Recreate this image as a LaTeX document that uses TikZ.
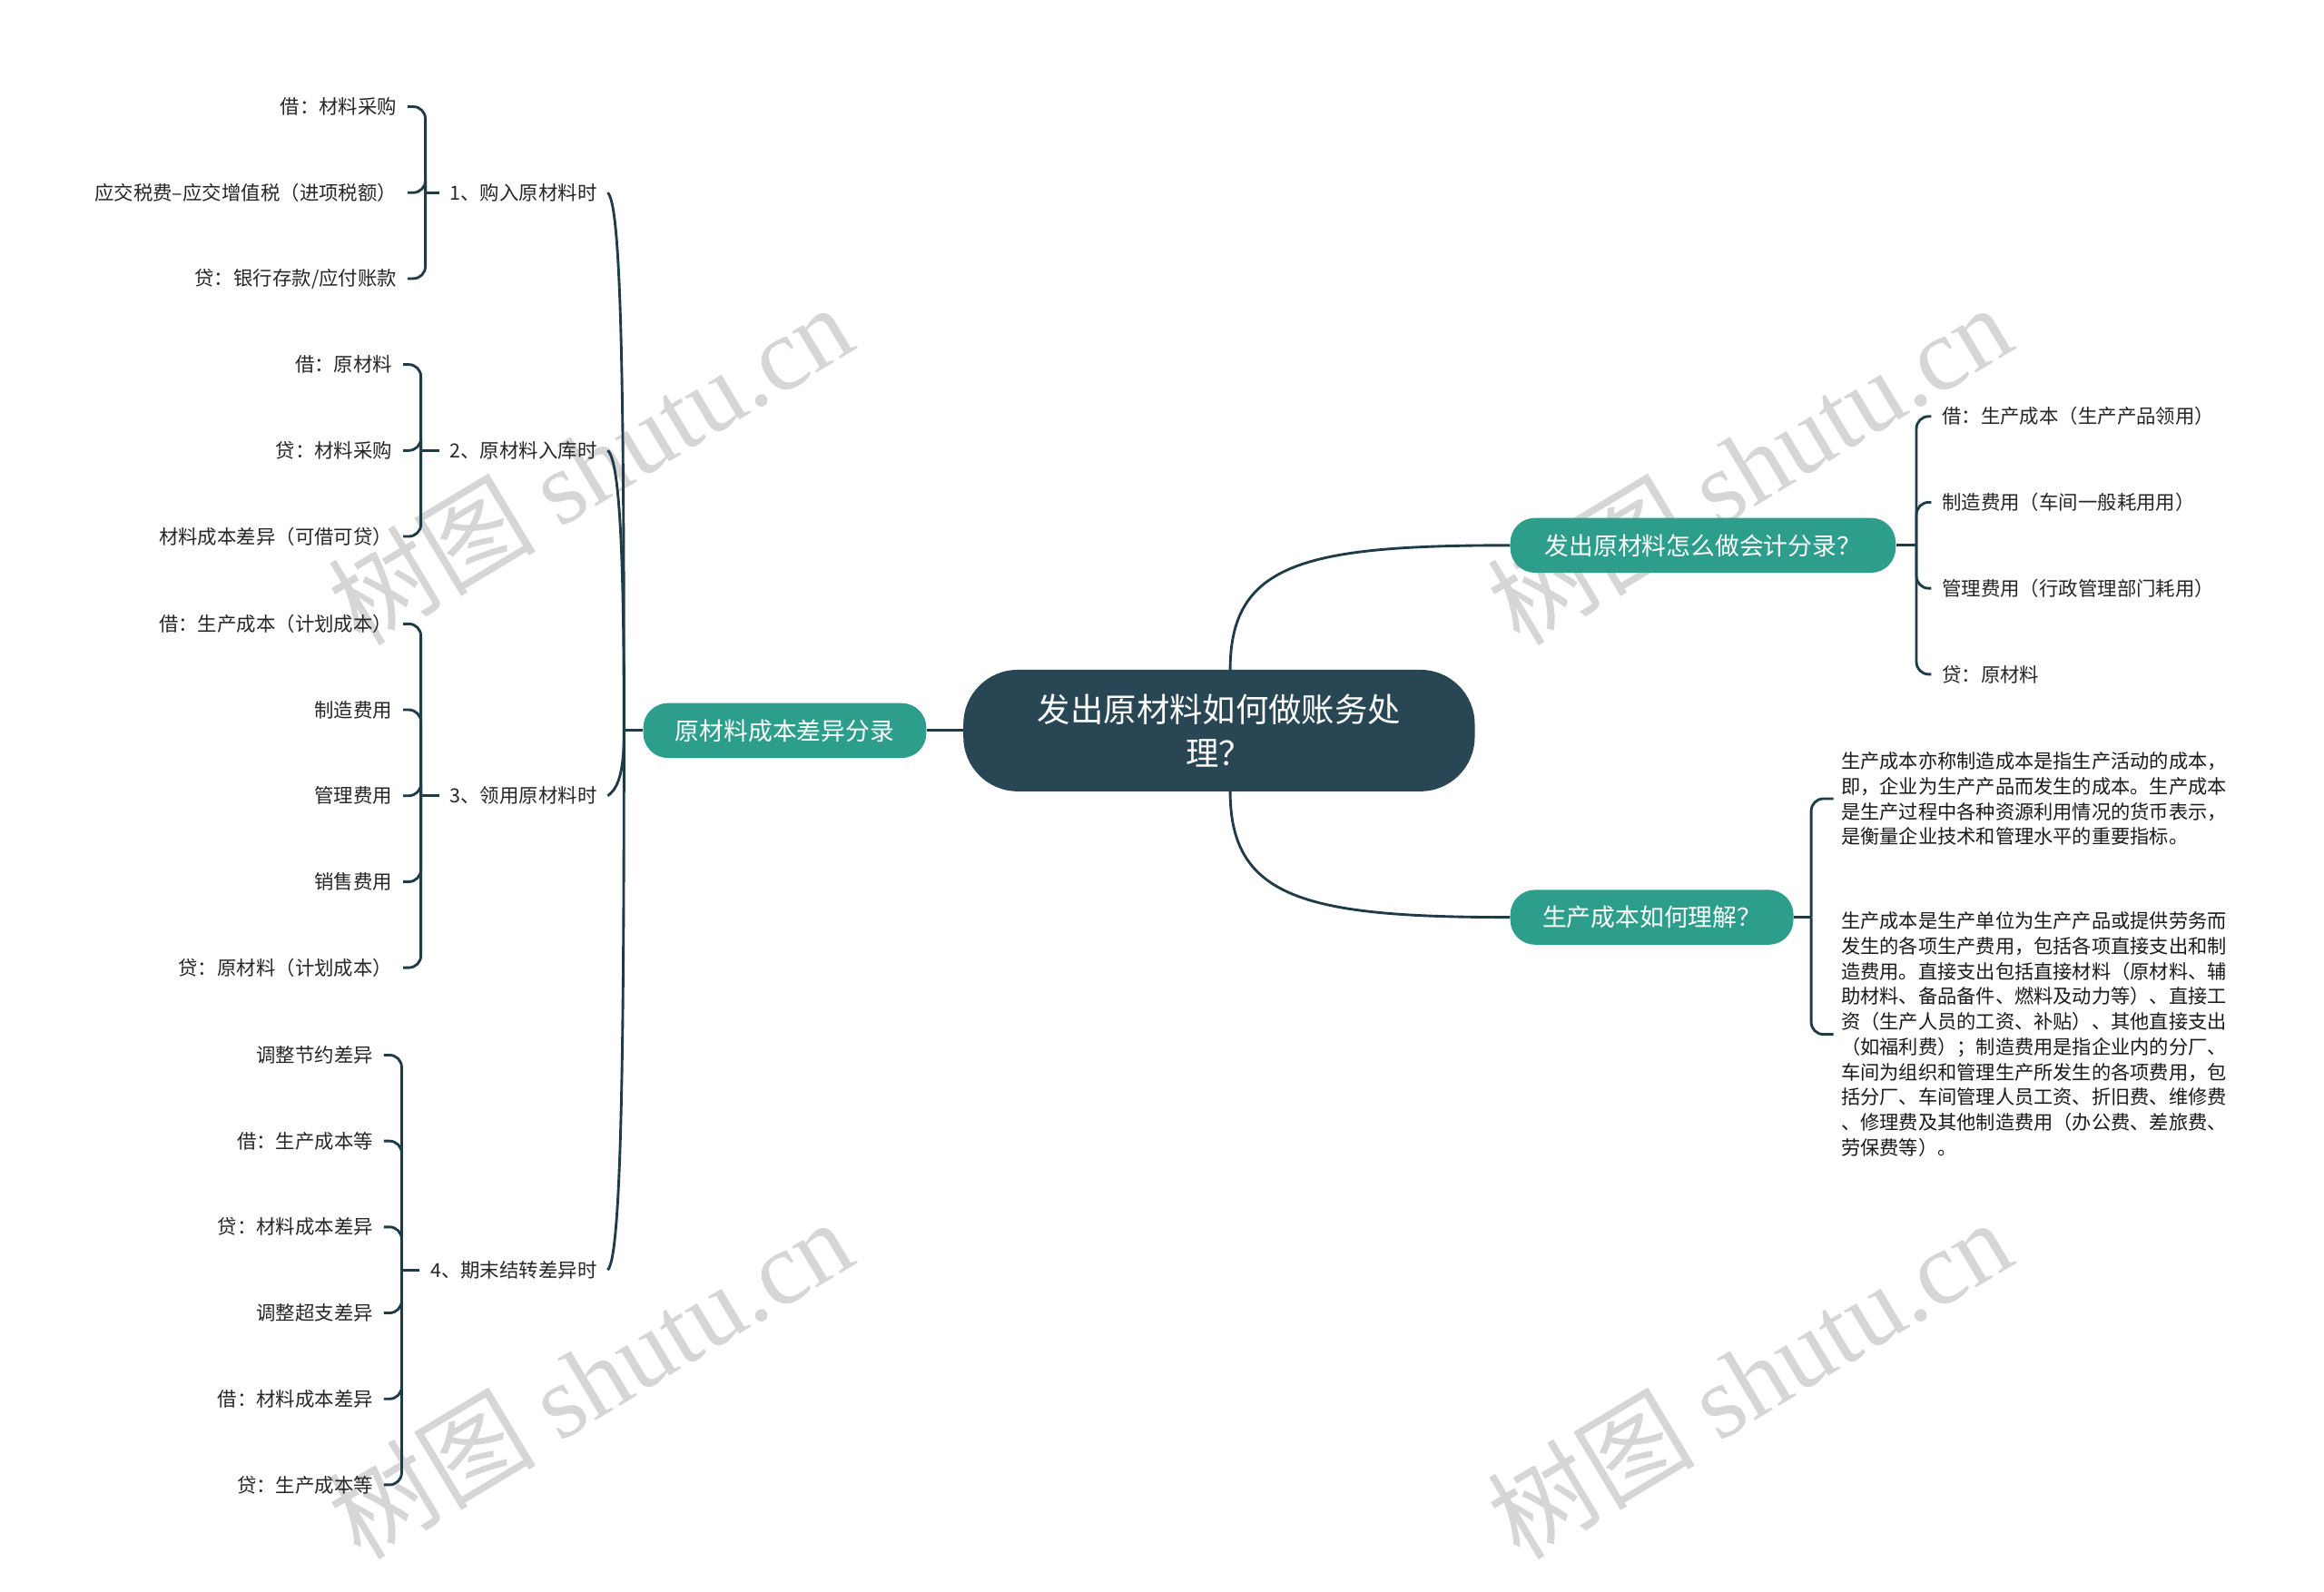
\documentclass[tikz,border=0pt]{standalone}
\usepackage{fontspec}
\setmainfont{Noto Sans CJK SC}
\newfontfamily\wmserif{Liberation Serif}
\usetikzlibrary{calc}
\definecolor{dk}{HTML}{284654}
\definecolor{tl}{HTML}{2E9E8C}
\definecolor{ln}{HTML}{1F3B48}
\definecolor{wm}{HTML}{D6D6D6}
\begin{document}
\begin{tikzpicture}[x=0.03cm,y=-0.03cm,
  conn/.style={draw=ln,line width=1.5pt},
  brk/.style={conn,rounded corners=7pt},
  leaf/.style={font=\fontsize{11.2}{13}\selectfont,text=black!85,inner xsep=6pt,inner ysep=2pt},
  para/.style={font=\fontsize{11.1}{14.5}\selectfont,text=black!90,inner sep=0pt,align=left},
  rootbox/.style={fill=dk,text=white,rounded corners=1.1cm,minimum width=10.35cm,minimum height=2.46cm,align=center,font=\fontsize{19}{25}\selectfont},
  mainbox/.style={fill=tl,text=white,rounded corners=0.5cm,minimum height=1.11cm,inner sep=0pt,font=\fontsize{14}{16}\selectfont},
  wmark/.style={text=wm,rotate=31,font=\fontsize{60}{64}\selectfont}
]
\useasboundingbox (0,0) rectangle (1568,1074);
% watermarks
\node[wmark] (w1) at (398,313) {树图 {\wmserif shutu.cn}};
\node[wmark] (w2) at (1180,313) {树图 {\wmserif shutu.cn}};
\node[wmark] (w3) at (398,930) {树图 {\wmserif shutu.cn}};
\node[wmark] (w4) at (1180,930) {树图 {\wmserif shutu.cn}};

% main nodes
\node[rootbox] (root) at (822.5,493) {发出原材料如何做账务处\\理？};
\node[mainbox,minimum width=5.73cm] (L) at (529.5,493) {原材料成本差异分录};
\node[mainbox,minimum width=7.8cm] (R1) at (1149,368) {发出原材料怎么做会计分录？};
\node[mainbox,minimum width=5.73cm] (R2) at (1114.5,619) {生产成本如何理解？};

\draw[conn] (root.west) -- (L.east);
\coordinate (rt) at (830,452);
\coordinate (rb) at (830,534);
\draw[conn] (rt) .. controls (830,380) and (880,368) .. (R1.west);
\draw[conn] (rb) .. controls (830,606) and (880,619) .. (R2.west);

% left spine
\coordinate (jL) at (421,493);
\node[leaf,anchor=east] (g1) at (410,130) {1、购入原材料时};
\node[leaf,anchor=east] (g2) at (410,304) {2、原材料入库时};
\node[leaf,anchor=east] (g3) at (410,537) {3、领用原材料时};
\node[leaf,anchor=east] (g4) at (410,857) {4、期末结转差异时};
\draw[conn] (L.west) -- (jL);
\draw[conn] (jL) .. controls (421,250) and (419,138) .. (g1.east);
\draw[conn] (jL) .. controls (421,390) and (419,311) .. (g2.east);
\draw[conn] (jL) .. controls (421,515) and (419,531) .. (g3.east);
\draw[conn] (jL) .. controls (421,720) and (419,849) .. (g4.east);

% group 1
\coordinate (b1) at (287,130);
\node[leaf,anchor=east] (c11) at (275,72) {借：材料采购};
\node[leaf,anchor=east] (c12) at (275,130) {应交税费–应交增值税（进项税额）};
\node[leaf,anchor=east] (c13) at (275,188) {贷：银行存款/应付账款};
\draw[conn] (g1.west) -- (b1);
\foreach \c in {c11,c12,c13} \draw[brk] (b1) |- (\c.east);

% group 2
\coordinate (b2) at (284,304);
\node[leaf,anchor=east] (c21) at (272,246) {借：原材料};
\node[leaf,anchor=east] (c22) at (272,304) {贷：材料采购};
\node[leaf,anchor=east] (c23) at (272,362) {材料成本差异（可借可贷）};
\draw[conn] (g2.west) -- (b2);
\foreach \c in {c21,c22,c23} \draw[brk] (b2) |- (\c.east);

% group 3
\coordinate (b3) at (284,537);
\node[leaf,anchor=east] (c31) at (272,421) {借：生产成本（计划成本）};
\node[leaf,anchor=east] (c32) at (272,479) {制造费用};
\node[leaf,anchor=east] (c33) at (272,537) {管理费用};
\node[leaf,anchor=east] (c34) at (272,595) {销售费用};
\node[leaf,anchor=east] (c35) at (272,653) {贷：原材料（计划成本）};
\draw[conn] (g3.west) -- (b3);
\foreach \c in {c31,c32,c33,c34,c35} \draw[brk] (b3) |- (\c.east);

% group 4
\coordinate (b4) at (271,857);
\node[leaf,anchor=east] (c41) at (259,712) {调整节约差异};
\node[leaf,anchor=east] (c42) at (259,770) {借：生产成本等};
\node[leaf,anchor=east] (c43) at (259,828) {贷：材料成本差异};
\node[leaf,anchor=east] (c44) at (259,886) {调整超支差异};
\node[leaf,anchor=east] (c45) at (259,944) {借：材料成本差异};
\node[leaf,anchor=east] (c46) at (259,1002) {贷：生产成本等};
\draw[conn] (g4.west) -- (b4);
\foreach \c in {c41,c42,c43,c44,c45,c46} \draw[brk] (b4) |- (\c.east);

% right branch 1
\coordinate (b5) at (1293,368);
\node[leaf,anchor=west] (d1) at (1303,281) {借：生产成本（生产产品领用）};
\node[leaf,anchor=west] (d2) at (1303,339) {制造费用（车间一般耗用用）};
\node[leaf,anchor=west] (d3) at (1303,397) {管理费用（行政管理部门耗用）};
\node[leaf,anchor=west] (d4) at (1303,455) {贷：原材料};
\draw[conn] (R1.east) -- (b5);
\foreach \c in {d1,d2,d3,d4} \draw[brk] (b5) |- (\c.west);

% right branch 2
\coordinate (b6) at (1222,619);
\node[para,anchor=west] (e1) at (1242,539) {生产成本亦称制造成本是指生产活动的成本，\\即，企业为生产产品而发生的成本。生产成本\\是生产过程中各种资源利用情况的货币表示，\\是衡量企业技术和管理水平的重要指标。};
\node[para,anchor=west] (e2) at (1242,698) {生产成本是生产单位为生产产品或提供劳务而\\发生的各项生产费用，包括各项直接支出和制\\造费用。直接支出包括直接材料（原材料、辅\\助材料、备品备件、燃料及动力等）、直接工\\资（生产人员的工资、补贴）、其他直接支出\\（如福利费）；制造费用是指企业内的分厂、\\车间为组织和管理生产所发生的各项费用，包\\括分厂、车间管理人员工资、折旧费、维修费\\、修理费及其他制造费用（办公费、差旅费、\\劳保费等）。};
\draw[conn] (R2.east) -- (b6);
\draw[brk] (b6) |- ($(e1.west)+(-5,0)$);
\draw[brk] (b6) |- ($(e2.west)+(-5,0)$);
\end{tikzpicture}
\end{document}
